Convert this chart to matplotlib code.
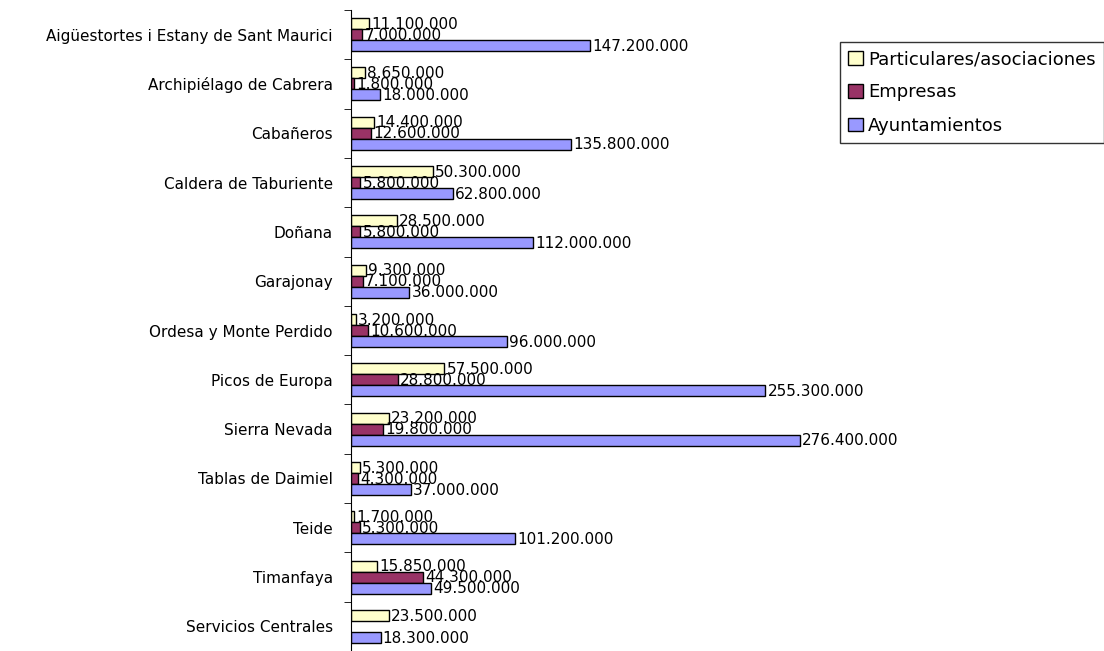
import numpy as np
import matplotlib
matplotlib.use("Agg")
import matplotlib.pyplot as plt
from matplotlib.patches import Patch

parques = ["Aigüestortes i Estany de Sant Maurici", "Archipiélago de Cabrera",
           "Cabañeros", "Caldera de Taburiente", "Doñana", "Garajonay",
           "Ordesa y Monte Perdido", "Picos de Europa", "Sierra Nevada",
           "Tablas de Daimiel", "Teide", "Timanfaya", "Servicios Centrales"]

# valores en millones
particulares = [11.1, 8.65, 14.4, 50.3, 28.5, 9.3, 3.2, 57.5, 23.2, 5.3, 1.7, 15.85, 23.5]
empresas = [7.0, 1.8, 12.6, 5.8, 5.8, 7.1, 10.6, 28.8, 19.8, 4.3, 5.3, 44.3, None]
ayuntamientos = [147.2, 18.0, 135.8, 62.8, 112.0, 36.0, 96.0, 255.3, 276.4, 37.0, 101.2, 49.5, 18.3]

series = [("Particulares/asociaciones", particulares, "#FFFFCC"),
          ("Empresas", empresas, "#993366"),
          ("Ayuntamientos", ayuntamientos, "#9999FF")]


def fmt(v):
    return f"{int(round(v * 1e6)):,}".replace(",", ".")


plt.rcParams["font.family"] = ["DejaVu Sans"]
fig = plt.figure(figsize=(11.04, 6.51), dpi=100)
ax = fig.add_axes([351 / 1104, 0.0, 487 / 1104, 1 - 10 / 651])

y = np.arange(len(parques))
h = 0.223
for k, (name, vals, col) in enumerate(series):
    off = (k - 1) * h
    for i, v in enumerate(vals):
        if v is None:
            continue
        ax.barh(y[i] + off, v, height=h, color=col, edgecolor="black", lw=1)
        ax.annotate(fmt(v), (v, y[i] + off), xytext=(1.5, -0.5),
                    textcoords="offset points", va="center", ha="left",
                    fontsize=11)

ax.set_xlim(0, 300)
ax.set_ylim(len(parques) - 0.5, -0.5)
ax.set_yticks(y)
ax.set_yticklabels(parques, fontsize=11)
ax.set_yticks(np.arange(len(parques) + 1) - 0.5, minor=True)
ax.tick_params(axis="y", which="major", length=0, pad=13)
ax.tick_params(axis="y", which="minor", length=5, direction="out")
ax.set_xticks([])
for s in ["top", "right", "bottom"]:
    ax.spines[s].set_visible(False)

handles = [Patch(facecolor=c, edgecolor="black", label=n) for n, _, c in series]
leg = fig.legend(handles=handles, loc="upper left",
                 bbox_to_anchor=(840 / 1104, 1 - 42 / 651),
                 fontsize=13, frameon=True, fancybox=False,
                 handlelength=0.8, handleheight=0.8, handletextpad=0.3,
                 labelspacing=0.85, borderpad=0.45, borderaxespad=0)
leg.get_frame().set_edgecolor("black")
leg.get_frame().set_linewidth(1)

fig.savefig("out.png", dpi=100)
